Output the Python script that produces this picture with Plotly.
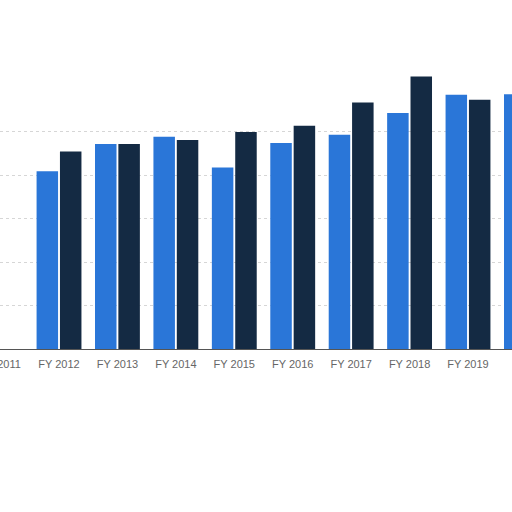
import plotly.graph_objects as go

# fiscal years (FY 2011 and FY 2020 sit at the cut-off edges)
years = ["FY 2011", "FY 2012", "FY 2013", "FY 2014", "FY 2015",
         "FY 2016", "FY 2017", "FY 2018", "FY 2019", "FY 2020"]

# values (gridline step = 2)
series_a = [None, 8.17, 9.43, 9.76, 8.35, 9.47, 9.85, 10.85, 11.69, 11.72]
series_b = [None, 9.08, 9.43, 9.61, 9.98, 10.27, 11.34, 12.53, 11.46, None]

grid_ticks = [0, 2, 4, 6, 8, 10]

fig = go.Figure()

fig.add_trace(go.Bar(
    x=years, y=series_a, name="A",
    marker=dict(color="#2a76d8", line=dict(width=0)),
))
fig.add_trace(go.Bar(
    x=years, y=series_b, name="B",
    marker=dict(color="#142a43", line=dict(width=0)),
))

fig.update_layout(
    width=512, height=512,
    margin=dict(l=0, r=0, t=0, b=163),
    paper_bgcolor="white",
    plot_bgcolor="white",
    barmode="group",
    bargap=0.2,
    bargroupgap=0.08,
    showlegend=False,
    font=dict(family="Liberation Sans", size=11, color="#666666"),
)

fig.update_xaxes(
    range=[-0.01, 8.753],
    automargin=False,
    showgrid=False,
    showline=True, linecolor="#555555", linewidth=1,
    ticks="outside", ticklen=5, tickcolor="rgba(0,0,0,0)",
    tickfont=dict(size=11, color="#666666"),
)
fig.update_yaxes(
    range=[0, 16.05],
    automargin=False,
    tickvals=grid_ticks,
    showticklabels=False,
    showgrid=True, gridcolor="#d6d6d6", griddash="dot", gridwidth=1,
    zeroline=False,
)

# drop the browser's default 8px body margin so the chart sits at the corner
fig.write_html(
    "out.html",
    config={"displayModeBar": False},
    post_script="document.body.style.margin = '0';",
)
